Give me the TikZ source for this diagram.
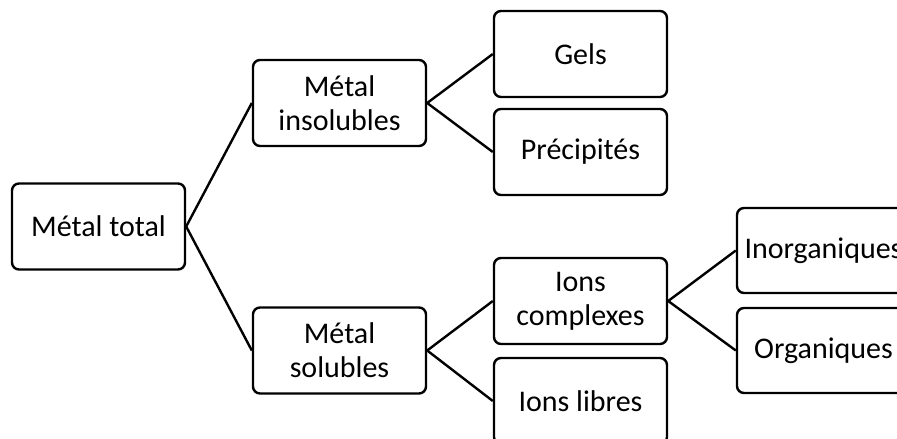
\documentclass[tikz,border=0pt]{standalone}
\usepackage{fontspec}
\setmainfont{Carlito}
\begin{document}
\begin{tikzpicture}[x=1pt,y=-1pt,
  box/.style={draw=black, line width=2.4pt, rounded corners=7pt, minimum width=173pt, minimum height=86pt, align=center, inner sep=0pt, font=\fontsize{30}{34}\selectfont},
  link/.style={draw=black, line width=2.4pt}]
\useasboundingbox (0,0) rectangle (897,439);
\clip (0,0) rectangle (897,439);
\node[box] (total) at (98.5,226.5) {Métal total};
\node[box] (insol) at (339.5,103) {Métal\\insolubles};
\node[box] (sol) at (339.5,350.5) {Métal\\solubles};
\node[box] (gels) at (580.5,54) {Gels};
\node[box] (precip) at (580.5,152) {Précipités};
\node[box] (compl) at (580.5,301) {Ions\\complexes};
\node[box] (libres) at (580.5,401) {Ions libres};
\node[box, minimum height=85pt] (inorg) at (823.5,250.5) {Inorganiques};
\node[box, minimum height=85pt] (org) at (823.5,350.5) {Organiques};
\draw[link] (total.east) -- (insol.west);
\draw[link] (total.east) -- (sol.west);
\draw[link] (insol.east) -- (gels.west);
\draw[link] (insol.east) -- (precip.west);
\draw[link] (sol.east) -- (compl.west);
\draw[link] (sol.east) -- (libres.west);
\draw[link] (compl.east) -- (inorg.west);
\draw[link] (compl.east) -- (org.west);
\end{tikzpicture}
\end{document}
